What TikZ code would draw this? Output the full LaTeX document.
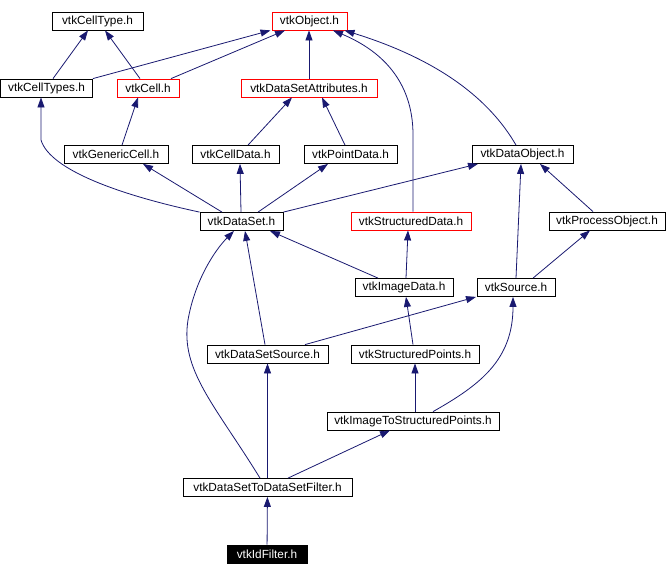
\documentclass[tikz,border=0pt]{standalone}
\usepackage{fontspec}
\setmainfont{Liberation Sans}
\usepackage{tikz}
\usetikzlibrary{positioning,arrows.meta}
\usepackage{xcolor}
\definecolor{edgeblue}{HTML}{191970}
\definecolor{hdrred}{HTML}{FF0000}

\begin{document}
\begin{tikzpicture}[x=1pt, y=-1pt, >={Triangle[length=10pt,width=7pt]},
    hdr/.style={draw=black, line width=0.8pt, rectangle, inner sep=0pt, minimum height=18,
      font=\fontsize{11.8}{13}\selectfont},
    hdrmiss/.style={hdr, draw=hdrred},
    hdrcur/.style={hdr, fill=black, text=white},
    dep/.style={->, edgeblue, line width=0.8pt}]
    \useasboundingbox (0,0) rectangle (666,576);
    % top rows
    \node[hdr, minimum width=91] (celltype) at (97.5,21) {vtkCellType.h};
    \node[hdrmiss, minimum width=75] (object) at (309.5,21) {vtkObject.h};
    \node[hdr, minimum width=92] (celltypes) at (46.5,88) {vtkCellTypes.h};
    \node[hdrmiss, minimum width=62] (cell) at (148,88) {vtkCell.h};
    \node[hdrmiss, minimum width=136] (dsattr) at (309,88) {vtkDataSetAttributes.h};
    \node[hdr, minimum width=104] (genericcell) at (116,154.5) {vtkGenericCell.h};
    \node[hdr, minimum width=87] (celldata) at (235.5,154.5) {vtkCellData.h};
    \node[hdr, minimum width=93] (pointdata) at (350.5,154.5) {vtkPointData.h};
    \node[hdr, minimum width=101] (dataobject) at (522.5,154.5) {vtkDataObject.h};
    % middle rows
    \node[hdr, minimum width=83] (dataset) at (241.5,221.5) {vtkDataSet.h};
    \node[hdrmiss, minimum width=120] (structdata) at (411,221) {vtkStructuredData.h};
    \node[hdr, minimum width=116] (procobj) at (607,221) {vtkProcessObject.h};
    \node[hdr, minimum width=98] (imagedata) at (404,287.5) {vtkImageData.h};
    \node[hdr, minimum width=78] (source) at (516,287.5) {vtkSource.h};
    \node[hdr, minimum width=121] (dssource) at (267.5,354) {vtkDataSetSource.h};
    \node[hdr, minimum width=128] (structpoints) at (415,354) {vtkStructuredPoints.h};
    % bottom rows
    \node[hdr, minimum width=172] (imgtosp) at (413,421) {vtkImageToStructuredPoints.h};
    \node[hdr, minimum width=169] (dstods) at (267.5,487.5) {vtkDataSetToDataSetFilter.h};
    \node[hdrcur, minimum width=80] (idfilter) at (267,554) {vtkIdFilter.h};

    % includes
    \draw[dep] ([xshift=6.5]celltypes.north) -- ([xshift=-9.5]celltype.south);
    \draw[dep] ([xshift=-8]cell.north) -- ([xshift=7.5]celltype.south);
    \draw[dep] (celltypes.north east) -- ([xshift=-39]object.south);
    \draw[dep] ([xshift=23]cell.north) -- ([xshift=-24.5]object.south);
    \draw[dep] (dsattr) -- (dsattr.north |- object.south);
    \draw[dep] ([xshift=2]structdata.north) -- (413,135) .. controls (413,80) and (380,50) .. ([xshift=23.5]object.south);
    \draw[dep] ([xshift=-6.5]dataobject.north) .. controls (490,100) and (440,60) .. ([xshift=35]object.south);
    \draw[dep] ([xshift=6]genericcell.north) -- ([xshift=-10]cell.south);
    \draw[dep] ([xshift=12.5]celldata.north) -- ([xshift=-17]dsattr.south);
    \draw[dep] ([xshift=-5.5]pointdata.north) -- ([xshift=13]dsattr.south);
    \draw[dep] (dataset.north west) .. controls (120,195) and (50,170) .. (41,140) -- ([xshift=-5.5]celltypes.south);
    \draw[dep] ([xshift=-19.5]dataset.north) -- ([xshift=27]genericcell.south);
    \draw[dep] ([xshift=-0.5]dataset.north) -- ([xshift=4.5]celldata.south);
    \draw[dep] ([xshift=16.5]dataset.north) -- ([xshift=-22.5]pointdata.south);
    \draw[dep] (dataset.north east) -- ([xshift=-44.5]dataobject.south);
    \draw[dep] ([xshift=-14]procobj.north) -- ([xshift=17.5]dataobject.south);
    \draw[dep] ([xshift=-26]imagedata.north) -- ([xshift=28.5]dataset.south);
    \draw[dep] ([xshift=2]imagedata.north) -- ([xshift=-3]structdata.south);
    \draw[dep] (source.north) -- ([xshift=-1.5]dataobject.south);
    \draw[dep] ([xshift=17]source.north) -- ([xshift=-17]procobj.south);
    \draw[dep] ([xshift=-2.5]dssource.north) -- ([xshift=3.5]dataset.south);
    \draw[dep] ([xshift=37.5]dssource.north) -- ([xshift=-40]source.south);
    \draw[dep] ([xshift=-2]structpoints.north) -- ([xshift=2]imagedata.south);
    \draw[dep] ([xshift=2]imgtosp.north) -- (structpoints.south);
    \draw[dep] ([xshift=20]imgtosp.north) .. controls (480,385) and (513,360) .. ([xshift=-3]source.south);
    \draw[dep] ([xshift=-7.5]dstods.north) .. controls (215,405) and (180,370) .. (188,320)
      .. controls (195,280) and (215,250) .. ([xshift=-7.5]dataset.south);
    \draw[dep] (dstods) -- (dssource);
    \draw[dep] ([xshift=20.5]dstods.north) -- ([xshift=-23]imgtosp.south);
    \draw[dep] (idfilter) -- (dstods);
  \end{tikzpicture}
\end{document}
